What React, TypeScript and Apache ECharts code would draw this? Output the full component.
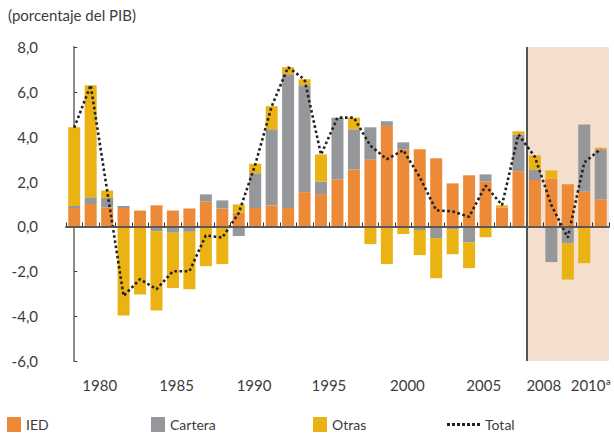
import React, { useEffect, useRef } from "react";
import * as echarts from "echarts";

const years = [
  "1978", "1979", "1980", "1981", "1982", "1983", "1984", "1985", "1986", "1987",
  "1988", "1989", "1990", "1991", "1992", "1993", "1994", "1995", "1996", "1997",
  "1998", "1999", "2000", "2001", "2002", "2003", "2004", "2005", "2006", "2007",
  "2008", "2009", "2010",
];

const ied = [
  0.82, 1.0, 0.85, 0.82, 0.71, 0.94, 0.71, 0.8, 1.12, 0.8,
  0.62, 0.82, 0.94, 0.82, 1.53, 1.44, 2.1, 2.54, 2.99, 4.48,
  3.44, 3.44, 3.04, 1.92, 2.28, 2.0, 0.85, 2.46, 2.07, 2.14,
  1.88, 1.56, 1.2,
];

const cartera = [
  0.09, 0.3, 0.42, 0.09, 0, -0.22, -0.28, -0.24, 0.31, 0.36,
  -0.43, 1.55, 3.39, 5.97, 4.76, 0.56, 2.75, 1.79, 1.43, 0.21,
  0.31, -0.16, -0.52, -0.12, -0.71, 0.32, -0.04, 1.64, 0.47, -1.59,
  -0.76, 2.99, 2.24,
];

const otras = [
  3.51, 5.0, 0.33, -3.97, -3.04, -3.53, -2.47, -2.56, -1.77, -1.68,
  0.36, 0.42, 1.03, 0.31, 0.27, 1.21, 0, 0.52, -0.79, -1.68,
  -0.34, -1.12, -1.79, -1.12, -1.15, -0.48, 0.09, 0.14, 0.63, 0.36,
  -1.61, -1.64, 0.07,
];

const total = [
  4.4, 6.3, 1.6, -3.1, -2.35, -2.8, -2.0, -2.0, -0.4, -0.5,
  0.6, 2.75, 5.35, 7.1, 6.55, 3.2, 4.85, 4.85, 3.6, 3.0,
  3.4, 2.2, 0.72, 0.67, 0.43, 1.82, 0.95, 4.1, 3.1, 0.95,
  -0.5, 2.85, 3.45,
];

const tickLabels = ["1980", "1985", "1990", "1995", "2000", "2005", "2008", "2010ª"];

// layout: where each year label sits along the category index scale
const labelSlots = [1.55, 6.22, 10.93, 15.48, 20.25, 24.89, 28.54, 31.4];
const shadeFrom = 27.5;

const FONT = "Lato";
const TEXT = "#3c3c3c";
const DOTS =
  "path://M0,0 M33,15 M0,6h3v3h-3z M5,6h3v3h-3z M10,6h3v3h-3z M15,6h3v3h-3z M20,6h3v3h-3z M25,6h3v3h-3z M30,6h3v3h-3z";

export default function App() {
  const ref = useRef<HTMLDivElement>(null);

  useEffect(() => {
    if (!ref.current) return;
    const chart = echarts.init(ref.current, null, { renderer: "svg" });
    const last = years.length - 0.5;
    const legendDefs = [
      { name: "IED", left: 7, icon: "rect", w: 14 },
      { name: "Cartera", left: 151, icon: "rect", w: 14 },
      { name: "Otras", left: 313, icon: "rect", w: 14 },
      { name: "Total", left: 447, icon: DOTS, w: 33 },
    ];
    chart.setOption({
      animation: false,
      backgroundColor: "#ffffff",
      textStyle: { fontFamily: FONT },
      title: {
        text: "(porcentaje del PIB)",
        left: 3,
        top: 2,
        textStyle: { fontFamily: FONT, fontSize: 15, fontWeight: "normal", color: TEXT },
      },
      grid: { left: 66, right: 1, top: 47, bottom: 74, containLabel: false },
      legend: legendDefs.map((l) => ({
        data: [l.name],
        left: l.left,
        top: 417,
        padding: 0,
        itemWidth: l.w,
        itemHeight: 15,
        itemGap: 0,
        selectedMode: false,
        icon: l.icon,
        textStyle: { fontFamily: FONT, fontSize: 14, color: TEXT },
      })),
      xAxis: [
        {
          type: "category",
          data: years,
          z: 10,
          axisLine: { onZero: true, lineStyle: { color: "#5a5a5a", width: 2 } },
          axisTick: { show: true, inside: true, length: 4, interval: 0, lineStyle: { color: "#333", width: 1 } },
          axisLabel: { show: false },
          splitLine: { show: false },
        },
        {
          type: "value",
          min: -0.5,
          max: last,
          position: "bottom",
          axisLine: { show: false, onZero: false },
          axisTick: { show: false },
          splitLine: { show: false },
          axisLabel: {
            customValues: labelSlots,
            margin: 16,
            fontFamily: FONT,
            fontSize: 15,
            color: TEXT,
            formatter: (v: number) => {
              const i = labelSlots.findIndex((s) => Math.abs(s - v) < 1e-6);
              return i >= 0 ? tickLabels[i] : "";
            },
          },
        },
      ],
      yAxis: {
        type: "value",
        min: -6,
        max: 8,
        interval: 2,
        axisLine: { show: true, lineStyle: { color: "#8c8c8c", width: 2 } },
        axisTick: { show: true, inside: true, length: 3, lineStyle: { color: "#333" } },
        splitLine: { show: false },
        axisLabel: {
          margin: 28,
          fontFamily: FONT,
          fontSize: 15,
          color: TEXT,
          formatter: (v: number) => v.toFixed(1).replace(".", ","),
        },
      },
      series: [
        {
          name: "shade",
          type: "line",
          xAxisIndex: 1,
          yAxisIndex: 0,
          data: [],
          z: 0,
          silent: true,
          markArea: {
            silent: true,
            itemStyle: { color: "#F4DFCE" },
            data: [[{ xAxis: shadeFrom }, { xAxis: last }]],
          },
          markLine: {
            silent: true,
            symbol: ["none", "none"],
            label: { show: false },
            lineStyle: { color: "#555555", width: 2, type: "solid" },
            data: [{ xAxis: shadeFrom }],
          },
        },
        {
          name: "IED",
          type: "bar",
          stack: "flows",
          barWidth: 12,
          data: ied,
          itemStyle: { color: "#EC8A37" },
        },
        {
          name: "Cartera",
          type: "bar",
          stack: "flows",
          barWidth: 12,
          data: cartera,
          itemStyle: { color: "#96979A" },
        },
        {
          name: "Otras",
          type: "bar",
          stack: "flows",
          barWidth: 12,
          data: otras,
          itemStyle: { color: "#EAB213" },
        },
        {
          name: "Total",
          type: "line",
          data: total,
          symbol: "none",
          z: 5,
          lineStyle: { color: "#222222", width: 2.6, type: [2.6, 2.6] },
          itemStyle: { color: "#222222" },
        },
      ],
    });
    return () => chart.dispose();
  }, []);

  return (
    <div
      ref={ref}
      style={{ position: "fixed", left: 0, top: 0, width: 614, height: 435 }}
    />
  );
}
